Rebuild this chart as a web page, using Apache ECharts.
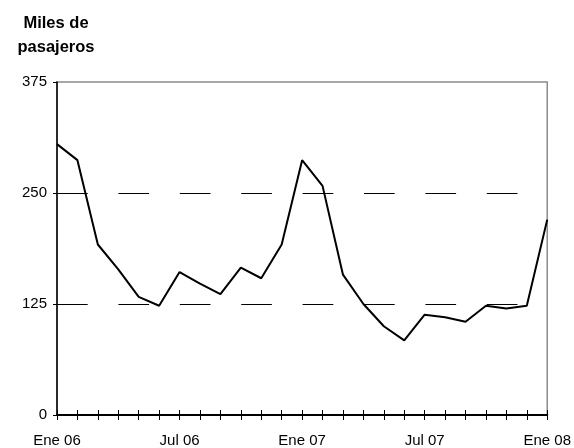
<!DOCTYPE html>
<html>
<head>
<meta charset="utf-8">
<script src="https://cdn.jsdelivr.net/npm/echarts@6/dist/echarts.min.js"></script>
<style>
  html, body { margin: 0; padding: 0; background: #fff; }
  #chart { width: 574px; height: 448px; }
</style>
</head>
<body>
<div id="chart"></div>
<script>
const months = ['Ene', 'Feb', 'Mar', 'Abr', 'May', 'Jun', 'Jul', 'Ago', 'Sep', 'Oct', 'Nov', 'Dic'];
const categories = [];
for (let y = 6; y <= 8; y++) {
  months.forEach(m => categories.push(m + ' 0' + y));
}
categories.length = 25; // Ene 06 .. Ene 08

// miles de pasajeros
const pasajeros = [
  305, 287, 192, 164, 133, 123, 161, 148, 136, 166, 154, 192,
  287, 258, 158, 125, 100, 84, 113, 110, 105, 123, 120, 123, 220
];

const yTicks = [0, 125, 250, 375];
const shownLabels = ['Ene 06', 'Jul 06', 'Ene 07', 'Jul 07', 'Ene 08'];

const font = 'Liberation Sans, Arial, sans-serif';

const chart = echarts.init(document.getElementById('chart'));
chart.setOption({
  animation: false,
  title: {
    text: 'Miles de\npasajeros',
    left: 51,
    top: 6,
    textAlign: 'center',
    textStyle: { fontFamily: font, fontWeight: 'bold', fontSize: 16.5, lineHeight: 24, color: '#000' }
  },
  grid: {
    left: 57, right: 25, top: 82, bottom: 31,
    show: true, borderColor: '#8c8c8c', borderWidth: 1.5
  },
  xAxis: [{
    type: 'category',
    data: categories,
    boundaryGap: false,
    axisLine: { lineStyle: { color: '#000', width: 2 } },
    axisTick: { length: 5, interval: 0, lineStyle: { color: '#000', width: 1 } },
    axisLabel: {
      interval: 0,
      margin: 18,
      color: '#000',
      fontFamily: font,
      fontSize: 15,
      formatter: v => shownLabels.includes(v) ? v : ''
    },
    splitLine: { show: false }
  }, {
    type: 'category',
    data: categories,
    boundaryGap: false,
    position: 'bottom',
    axisLine: { show: false },
    axisTick: { inside: true, length: 5, interval: 0, lineStyle: { color: '#000', width: 1 } },
    axisLabel: { show: false },
    splitLine: { show: false }
  }],
  yAxis: {
    type: 'value',
    min: yTicks[0],
    max: yTicks[yTicks.length - 1],
    interval: 125,
    axisLine: { show: true, lineStyle: { color: '#000', width: 1.5 } },
    axisTick: { show: true, length: 4, lineStyle: { color: '#000', width: 1 } },
    axisLabel: { margin: 10, color: '#000', fontFamily: font, fontSize: 15 },
    splitLine: {
      show: true,
      lineStyle: {
        color: ['rgba(0,0,0,0)', '#000', '#000', 'rgba(0,0,0,0)'],
        width: 1,
        type: [30.7, 30.7]
      }
    }
  },
  series: [{
    type: 'line',
    xAxisIndex: 0,
    data: pasajeros,
    symbol: 'none',
    lineStyle: { color: '#000', width: 2 }
  }]
});
</script>
</body>
</html>
